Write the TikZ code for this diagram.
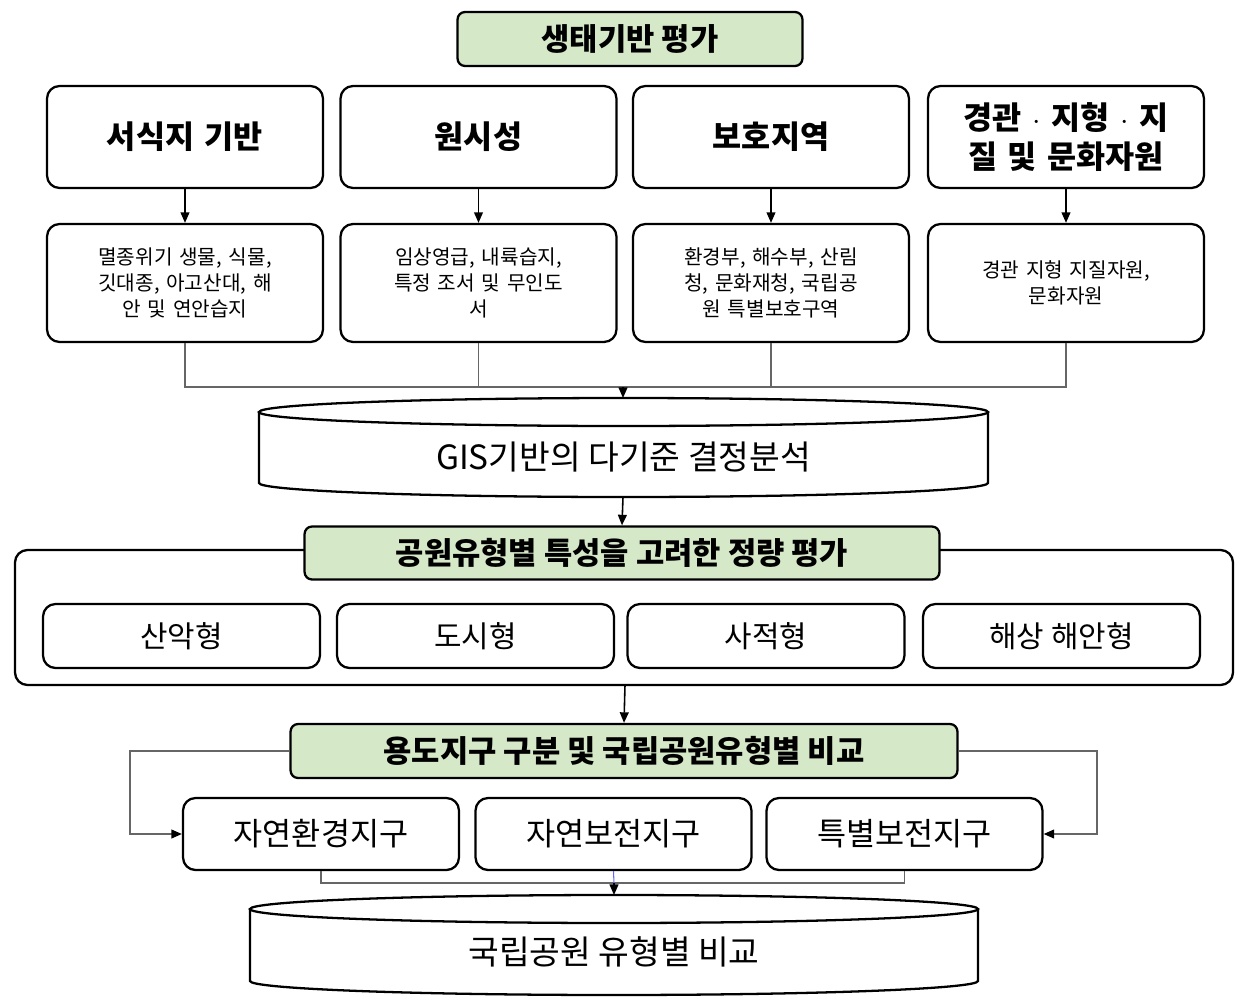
\documentclass[tikz,border=0pt]{standalone}
\usepackage{fontspec}
\setmainfont{Noto Sans CJK KR}
\newcommand\kbold{\bfseries}
\usetikzlibrary{arrows.meta}
\definecolor{leaf}{HTML}{D5E8C8}
\tikzset{
  box/.style={draw,line width=1.3pt,rounded corners=0.25cm,fill=white,align=center},
  hbox/.style={box,minimum width=5.52cm,minimum height=2.04cm,font=\kbold\fontsize{18}{22}\selectfont,text width=4.8cm},
  dbox/.style={box,minimum width=5.52cm,minimum height=2.36cm,font=\fontsize{11.5}{15}\selectfont,text width=5.1cm},
  tbox/.style={box,minimum width=5.54cm,minimum height=1.28cm,font=\fontsize{17}{19}\selectfont},
  zbox/.style={box,minimum width=5.52cm,minimum height=1.44cm,font=\fontsize{18}{20}\selectfont},
  gbox/.style={box,fill=leaf,rounded corners=0.15cm,font=\kbold\fontsize{17.5}{20}\selectfont},
  link/.style={draw=gray!80!black,line width=.6pt},
  arr/.style={line width=.9pt,-{Triangle[length=6pt,width=5pt,color=black,fill=black]}}
}
\newcommand\drum[5]{% cx, top y, bottom y, rx, name
  \fill[white] (#1,#2) ++(-#4,0) -- ++(0,#3-#2) arc[start angle=180,end angle=360,x radius=#4*0.02cm,y radius=0.28cm] -- (#1+#4,#2) -- cycle;
  \draw[line width=1.3pt] (#1-#4,#2) -- (#1-#4,#3) arc[start angle=180,end angle=360,x radius=#4*0.02cm,y radius=0.28cm] -- (#1+#4,#2);
  \draw[line width=1.3pt,fill=white] (#1,#2) ellipse[x radius=#4*0.02cm,y radius=0.28cm];
}
\begin{document}
\begin{tikzpicture}[x=0.02cm,y=-0.02cm]
\useasboundingbox (0,0) rectangle (1245,1004);
% title
\node[gbox,minimum width=6.9cm,minimum height=1.08cm] (top) at (630,39) {생태기반 평가};
% headers and descriptions
\node[hbox] (h1) at (185,137) {서식지 기반};
\node[hbox] (h2) at (478.5,137) {원시성};
\node[hbox] (h3) at (771,137) {보호지역};
\node[hbox] (h4) at (1066,137) {경관 $\cdot$ 지형 $\cdot$ 지\\질 및 문화자원};
\node[dbox] (d1) at (185,283) {멸종위기 생물, 식물,\\깃대종, 아고산대, 해\\안 및 연안습지};
\node[dbox] (d2) at (478.5,283) {임상영급, 내륙습지,\\특정 조서 및 무인도\\서};
\node[dbox] (d3) at (771,283) {환경부, 해수부, 산림\\청, 문화재청, 국립공\\원 특별보호구역};
\node[dbox] (d4) at (1066,283) {경관 지형 지질자원,\\문화자원};
\foreach \i in {1,...,4}
  \draw[arr] (h\i.south) -- (d\i.north);
% first drum
\coordinate (j1) at (623,387);
\draw[link] (d1.south) |- (j1) -| (d4.south);
\draw[link] (d2.south) -- (d2.south |- j1);
\draw[link] (d3.south) -- (d3.south |- j1);
\drum{623.5}{412}{483}{364.5}{c1}
\node[font=\fontsize{19}{21}\selectfont] (c1) at (623.5,457) {GIS기반의 다기준 결정분석};
\coordinate (c1top) at (623,398);
\coordinate (c1bot) at (623,497);
\draw[arr] (j1) -- (c1top);
% park types
\draw[box,line width=1.3pt] (15,550) rectangle (1233,685);
\coordinate (frame) at (625,685);
\node[gbox,minimum width=12.7cm,minimum height=1.06cm] (mid) at (622,553) {공원유형별 특성을 고려한 정량 평가};
\draw[arr] (c1bot) -- (mid.north);
\node[tbox] (t1) at (181.5,636) {산악형};
\node[tbox] (t2) at (475.5,636) {도시형};
\node[tbox] (t3) at (766,636) {사적형};
\node[tbox] (t4) at (1061.5,636) {해상 해안형};
% zones
\node[gbox,minimum width=13.34cm,minimum height=1.08cm] (low) at (624,751) {용도지구 구분 및 국립공원유형별 비교};
\draw[arr] (frame) -- (low.north);
\node[zbox] (z1) at (321,834) {자연환경지구};
\node[zbox] (z2) at (613.5,834) {자연보전지구};
\node[zbox] (z3) at (904.5,834) {특별보전지구};
\draw[link,arr] (low.west) -- (130,751) |- (z1.west);
\draw[link,arr] (low.east) -- (1097,751) |- (z3.east);
% second drum
\coordinate (j2) at (614,883);
\draw[link] (z1.south) |- (j2) -| (z3.south);
\draw[link,draw=blue!60] (z2.south) -- (j2);
\drum{614}{909}{981}{364}{c2}
\node[font=\fontsize{19}{21}\selectfont] (c2) at (614,952) {국립공원 유형별 비교};
\coordinate (c2top) at (614,895);
\draw[arr] (j2) -- (c2top);
\end{tikzpicture}
\end{document}
